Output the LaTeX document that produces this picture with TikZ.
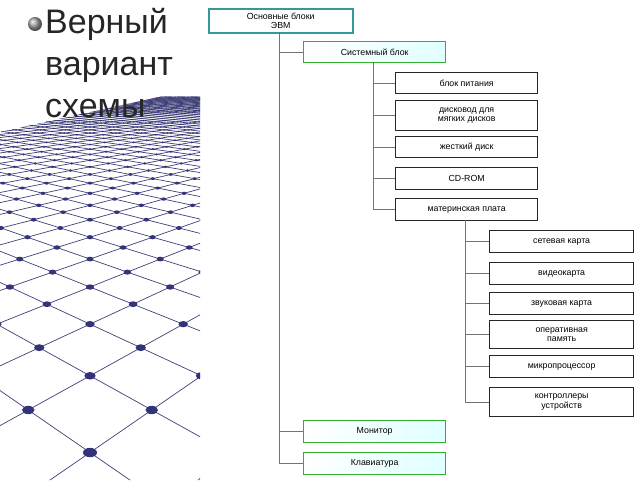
\documentclass[tikz,border=0pt]{standalone}
\usepackage{fontspec}
\setmainfont{Liberation Sans}
\begin{document}
\begin{tikzpicture}[x=1pt,y=-1pt,
  bx/.style={draw=black!85,line width=1.3pt,fill=white,font=\fontsize{8.8}{9.5}\selectfont,align=center,inner sep=1pt,anchor=north west},
  gbx/.style={draw=green!60!black!80,line width=1.3pt,left color=white,right color=cyan!12,font=\fontsize{8.8}{9.5}\selectfont,align=center,inner sep=1pt,anchor=north west},
  tbx/.style={draw=teal!80,line width=1.5pt,fill=white,font=\fontsize{8.8}{9.5}\selectfont,align=center,inner sep=1pt,anchor=north west},
  ln/.style={draw=black!55,line width=0.8pt}]
\useasboundingbox (0,0) rectangle (640,480);
\fill[white] (0,0) rectangle (640,480);
% perspective grid
\begin{scope}
\clip (0,132) -- (200,88) -- (200,480) -- (0,480) -- cycle;
\foreach \i in {-45,...,85}{
  \pgfmathsetmacro{\xa}{90+74.1*(2*\i+1)/0.94}
  \pgfmathsetmacro{\xb}{90+74.1*(2*\i-80)/11.47}
  \draw[color=blue!30!black!75,line width=0.7pt] (\xa,{60+420/0.94}) -- (\xb,{60+420/11.47});
  \pgfmathsetmacro{\xc}{90+74.1*(-1-2*\i)/0.94}
  \pgfmathsetmacro{\xd}{90+74.1*(80-2*\i)/11.47}
  \draw[color=blue!30!black!75,line width=0.7pt] (\xc,{60+420/0.94}) -- (\xd,{60+420/11.47});
}
\foreach \n in {-1,...,60}{
  \pgfmathsetmacro{\Z}{1.07+0.13*\n}
  \pgfmathsetmacro{\yy}{60+420/\Z}
  \pgfmathsetmacro{\lim}{int(3*\Z+3)}
  \foreach \k in {-\lim,...,\lim}{
    \pgfmathsetmacro{\m}{2*\k+mod(abs(\n),2)}
    \pgfmathsetmacro{\xx}{90+74.1*\m/\Z}
    \fill[color=blue!35!black!80] (\xx,\yy) ellipse ({7.5/\Z} and {5/\Z});
  }
}
\end{scope}
% bullet text
\shade[ball color=gray!70] (35,24) circle (7);
\node[anchor=north west,align=left,font=\fontsize{34}{42}\selectfont,inner sep=0pt,text=black!85] (title) at (45,8) {Верный\\вариант\\схемы};
% tree
\node[tbx,minimum width=144,minimum height=24] (root) at (208,8) {Основные блоки\\ЭВМ};
\node[gbx,minimum width=142,minimum height=21] (sys) at (303,41) {Системный блок};
\node[bx,minimum width=142,minimum height=21] (b1) at (395,72) {блок питания};
\node[bx,minimum width=142,minimum height=30] (b2) at (395,100) {дисковод для\\мягких дисков};
\node[bx,minimum width=142,minimum height=21] (b3) at (395,136) {жесткий диск};
\node[bx,minimum width=142,minimum height=22] (b4) at (395,167) {CD-ROM};
\node[bx,minimum width=142,minimum height=22] (b5) at (395,198) {материнская плата};
\node[bx,minimum width=144,minimum height=22] (c1) at (489,230) {сетевая карта};
\node[bx,minimum width=144,minimum height=22] (c2) at (489,262) {видеокарта};
\node[bx,minimum width=144,minimum height=22] (c3) at (489,292) {звуковая карта};
\node[bx,minimum width=144,minimum height=28] (c4) at (489,320) {оперативная\\память};
\node[bx,minimum width=144,minimum height=22] (c5) at (489,355) {микропроцессор};
\node[bx,minimum width=144,minimum height=29] (c6) at (489,387) {контроллеры\\устройств};
\node[gbx,minimum width=142,minimum height=22] (mon) at (303,420) {Монитор};
\node[gbx,minimum width=142,minimum height=22] (kb) at (303,452) {Клавиатура};
\coordinate (r0) at (279,32);
\draw[ln] (r0) |- (kb.west);
\draw[ln] (279,0 |- sys.west) -- (sys.west);
\draw[ln] (279,0 |- mon.west) -- (mon.west);
\coordinate (s0) at (373,62);
\draw[ln] (s0) |- (b5.west);
\foreach \b in {b1,b2,b3,b4}{\draw[ln] (373,0 |- \b.west) -- (\b.west);}
\coordinate (m0) at (465,220);
\draw[ln] (m0) |- (c6.west);
\foreach \c in {c1,c2,c3,c4,c5}{\draw[ln] (465,0 |- \c.west) -- (\c.west);}
\end{tikzpicture}
\end{document}
